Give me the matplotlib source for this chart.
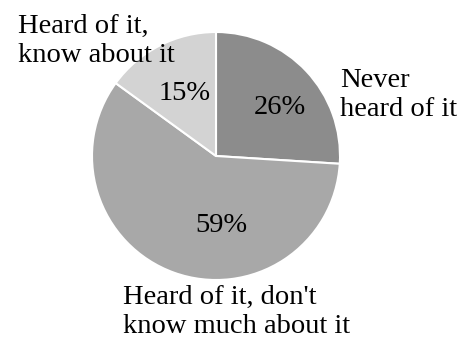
import matplotlib
matplotlib.use("Agg")
import matplotlib.pyplot as plt

categories = ["Never\nheard of it", "Heard of it, don't\nknow much about it", "Heard of it,\nknow about it"]
values = [26, 59, 15]
pct_labels = ["26%", "59%", "15%"]
colors = ["#8c8c8c", "#a8a8a8", "#d3d3d3"]

plt.rcParams['font.family'] = ['Liberation Serif', 'DejaVu Serif']

fig = plt.figure(figsize=(4.6, 3.4), dpi=100)
ax = fig.add_axes([0, 0, 1, 1])

H = 340
ax.pie(values, colors=colors, startangle=90, counterclock=False,
       center=(216, H - 156), radius=124, frame=False,
       wedgeprops=dict(edgecolor='white', linewidth=1.5))
ax.set_xlim(0, 460)
ax.set_ylim(0, 340)
ax.set_aspect('equal')
ax.axis('off')

fs = 20.5
# percent labels
pct_pos = [(280, 108), (221, 226), (185, 94)]
for (x, y), t in zip(pct_pos, pct_labels):
    ax.text(x, H - y, t, fontsize=fs, ha='center', va='center', color='black')

# category labels
cat_pos = [(340, 95, 'left'), (123, 312, 'left'), (18, 41, 'left')]
for (x, y, ha), t in zip(cat_pos, categories):
    ax.text(x, H - y, t, fontsize=fs, ha=ha, va='center', color='black', linespacing=1.22)

fig.savefig("out.png", dpi=100)
